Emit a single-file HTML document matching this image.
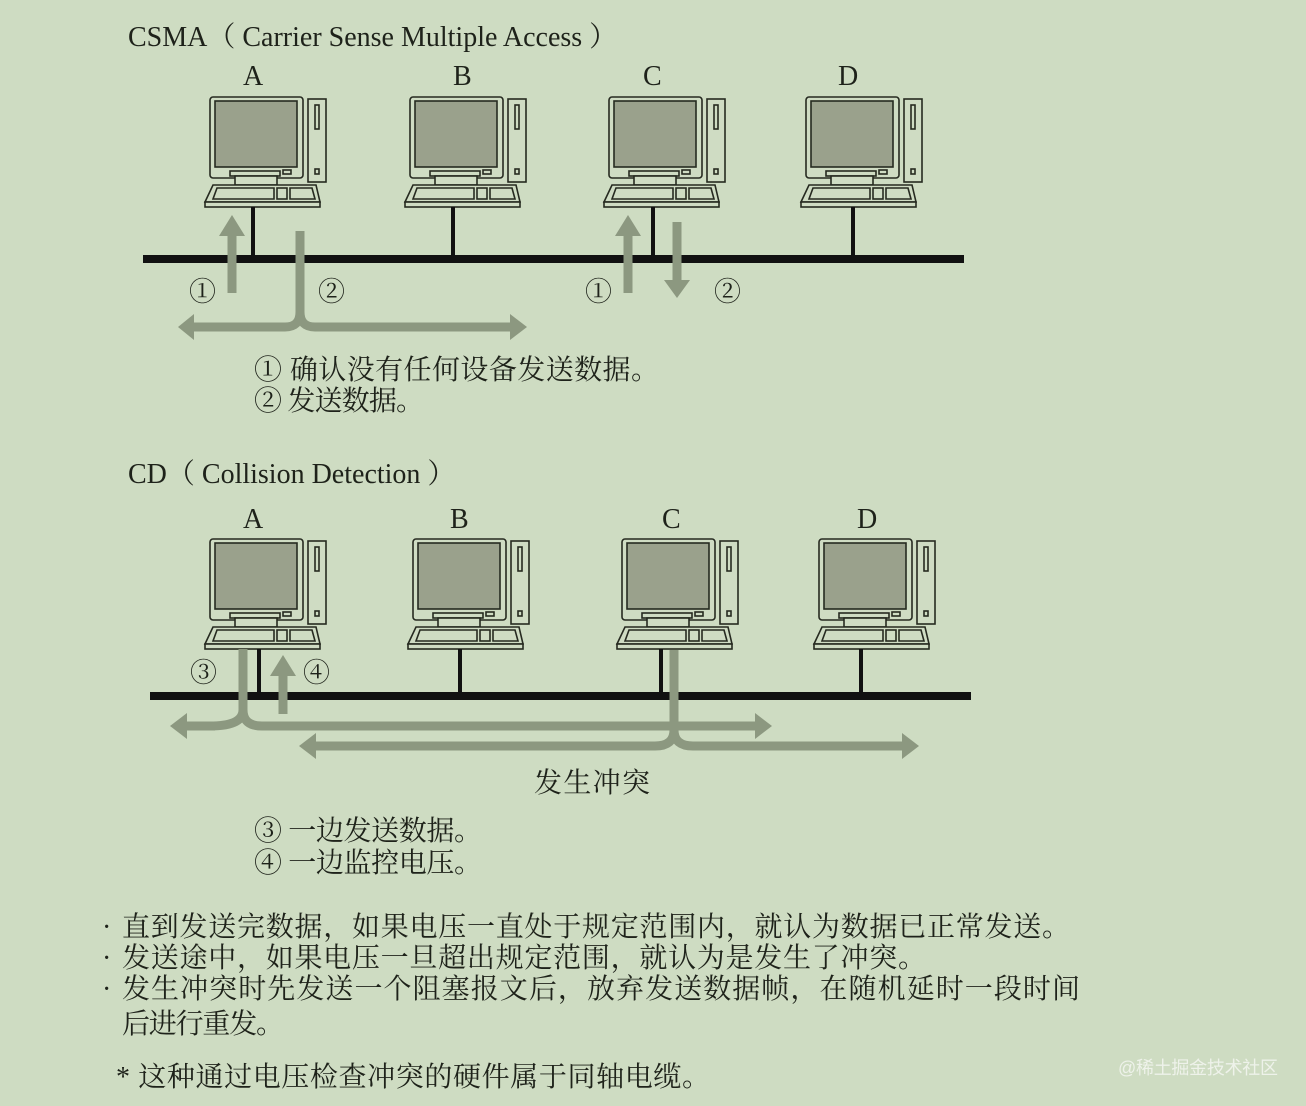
<!DOCTYPE html>
<html><head><meta charset="utf-8"><style>
html,body{margin:0;padding:0;background:#cedcc2;}
svg{display:block}
text{font-family:"Liberation Serif","Noto Serif CJK SC",serif;fill:#1e221a;}
.cn{font-family:"Liberation Serif","Noto Serif CJK SC",serif;}
</style></head><body>
<svg width="1306" height="1106" viewBox="0 0 1306 1106" xmlns="http://www.w3.org/2000/svg">
<defs>
<g id="pc" stroke="#262a20" stroke-width="1.6" fill="#cfdcc3">
  <rect x="0" y="0" width="93" height="81" rx="3"/>
  <rect x="5" y="4" width="82" height="66" fill="#9aa18c"/>
  <rect x="73" y="73" width="8" height="4"/>
  <rect x="20" y="74" width="50" height="5"/>
  <rect x="25" y="79" width="42" height="9"/>
  <rect x="98" y="2" width="18" height="83"/>
  <rect x="105" y="8" width="4" height="24"/>
  <rect x="105" y="72" width="4" height="5"/>
  <path d="M3 88 L106 88 L110 105 L-5 105 Z"/>
  <rect x="-5" y="105" width="115" height="5"/>
  <path d="M7 91 L64 91 L64 102 L3 102 Z"/>
  <rect x="67" y="91" width="10" height="11"/>
  <path d="M80 91 L102 91 L105 102 L80 102 Z"/>
</g>
</defs>

<text x="128" y="46" font-size="28">CSMA（ Carrier Sense Multiple Access ）</text>
<text x="243" y="85" font-size="28">A</text>
<text x="453" y="85" font-size="28">B</text>
<text x="643" y="85" font-size="28">C</text>
<text x="838" y="85" font-size="28">D</text>
<use href="#pc" x="210" y="97"/>
<use href="#pc" x="410" y="97"/>
<use href="#pc" x="609" y="97"/>
<use href="#pc" x="806" y="97"/>
<g stroke="#111" stroke-width="4">
<line x1="253" y1="207" x2="253" y2="259"/>
<line x1="453" y1="207" x2="453" y2="259"/>
<line x1="653" y1="207" x2="653" y2="259"/>
<line x1="853" y1="207" x2="853" y2="259"/>
</g>
<rect x="143" y="255" width="821" height="8" fill="#111"/>
<g stroke="#8c9880" stroke-width="9" fill="none">
<line x1="232" y1="293" x2="232" y2="230"/>
<path d="M300 231 L300 312 Q300 327 285 327 L192 327"/>
<path d="M300 312 Q300 327 315 327 L512 327"/>
<line x1="628" y1="293" x2="628" y2="230"/>
<line x1="677" y1="222" x2="677" y2="284"/>
</g>
<g fill="#8c9880">
<path d="M219 236 L232 215 L245 236 Z"/>
<path d="M194 314 L178 327 L194 340 Z"/>
<path d="M510 314 L527 327 L510 340 Z"/>
<path d="M615 236 L628 215 L641 236 Z"/>
<path d="M664 280 L677 298 L690 280 Z"/>
</g>
<text x="189" y="301" font-size="27" class="cn">①</text>
<text x="318" y="301" font-size="27" class="cn">②</text>
<text x="585" y="301" font-size="27" class="cn">①</text>
<text x="714" y="301" font-size="27" class="cn">②</text>
<text x="254" y="379" font-size="28" class="cn" textLength="405">① 确认没有任何设备发送数据。</text>
<text x="254" y="410" font-size="28" class="cn" textLength="170">② 发送数据。</text>

<text x="128" y="483" font-size="28">CD（ Collision Detection ）</text>
<text x="243" y="528" font-size="28">A</text>
<text x="450" y="528" font-size="28">B</text>
<text x="662" y="528" font-size="28">C</text>
<text x="857" y="528" font-size="28">D</text>
<use href="#pc" x="210" y="539"/>
<use href="#pc" x="413" y="539"/>
<use href="#pc" x="622" y="539"/>
<use href="#pc" x="819" y="539"/>
<g stroke="#111" stroke-width="4">
<line x1="259" y1="649" x2="259" y2="696"/>
<line x1="460" y1="649" x2="460" y2="696"/>
<line x1="661" y1="649" x2="661" y2="696"/>
<line x1="861" y1="649" x2="861" y2="696"/>
</g>
<rect x="150" y="692" width="821" height="8" fill="#111"/>
<g stroke="#8c9880" stroke-width="9" fill="none">
<path d="M210 726 Q243 726 243 710 L243 649"/>
<path d="M183 726 L215 726"/>
<path d="M243 710 Q243 726 262 726 L758 726"/>
<path d="M674 650 L674 730 Q674 746 655 746 L312 746"/>
<path d="M674 730 Q674 746 693 746 L905 746"/>
<line x1="283" y1="714" x2="283" y2="670"/>
</g>
<g fill="#8c9880">
<path d="M187 713 L170 726 L187 739 Z"/>
<path d="M755 713 L772 726 L755 739 Z"/>
<path d="M316 733 L299 746 L316 759 Z"/>
<path d="M902 733 L919 746 L902 759 Z"/>
<path d="M270 676 L283 655 L296 676 Z"/>
</g>
<text x="190" y="682" font-size="27" class="cn">③</text>
<text x="303" y="682" font-size="27" class="cn">④</text>
<text x="534" y="792" font-size="28" class="cn" textLength="116">发生冲突</text>
<text x="254" y="840" font-size="28" class="cn" textLength="228">③ 一边发送数据。</text>
<text x="254" y="872" font-size="28" class="cn" textLength="228">④ 一边监控电压。</text>

<text x="102" y="936" font-size="28" class="cn">·</text>
<text x="122" y="936" font-size="28" class="cn" textLength="948">直到发送完数据，如果电压一直处于规定范围内，就认为数据已正常发送。</text>
<text x="102" y="967" font-size="28" class="cn">·</text>
<text x="122" y="967" font-size="28" class="cn" textLength="804">发送途中，如果电压一旦超出规定范围，就认为是发生了冲突。</text>
<text x="102" y="998" font-size="28" class="cn">·</text>
<text x="122" y="998" font-size="28" class="cn" textLength="958">发生冲突时先发送一个阻塞报文后，放弃发送数据帧，在随机延时一段时间</text>
<text x="122" y="1033" font-size="28" class="cn" textLength="162">后进行重发。</text>
<text x="116" y="1086" font-size="28" class="cn" textLength="594">* 这种通过电压检查冲突的硬件属于同轴电缆。</text>
<text x="1118" y="1074" font-size="18" style="fill:#eef2ea;font-family:'Liberation Sans','Noto Sans CJK SC',sans-serif" textLength="160">@稀土掘金技术社区</text>
</svg>
</body></html>
